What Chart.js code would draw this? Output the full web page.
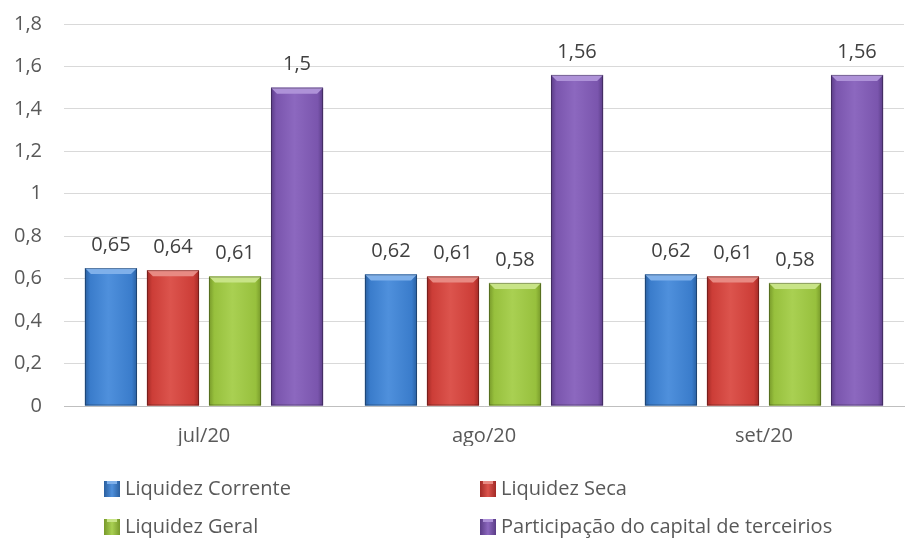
<!DOCTYPE html>
<html>
<head>
<meta charset="utf-8">
<script src="https://cdn.jsdelivr.net/npm/chart.js@4"></script>
<style>
  html, body { margin: 0; padding: 0; background: #fff; }
  #wrap { width: 907px; height: 545px; position: relative; }
</style>
</head>
<body>
<div id="wrap"><canvas id="indChart"></canvas></div>
<script>
// chart data
const months = ['jul/20', 'ago/20', 'set/20'];
const liquidezCorrente = [0.65, 0.62, 0.62];
const liquidezSeca = [0.64, 0.61, 0.61];
const liquidezGeral = [0.61, 0.58, 0.58];
const participacaoTerceiros = [1.5, 1.56, 1.56];
const yTicks = [0, 0.2, 0.4, 0.6, 0.8, 1, 1.2, 1.4, 1.6, 1.8];

const FONT = '"Open Sans", "Noto Sans", sans-serif';
const TXT = '#595959';

// base colours: [dark edge, mid, light centre, top highlight]
const palette = [
  ['#2a5f9f', '#3a7ccb', '#4f90dc', '#7fb0ea'],
  ['#a22a26', '#cc3d37', '#dc544d', '#e88a83'],
  ['#77992a', '#97c03d', '#a9d052', '#c8e487'],
  ['#5a3c86', '#7a55ad', '#8c68bf', '#ae92d8']
];

const fmt = v => String(Math.round(v * 100) / 100).replace('.', ',');

// bevel look painted over each bar, using the bar geometry from the scales
const bevelBars = {
  id: 'bevelBars',
  afterDatasetsDraw(chart) {
    const ctx = chart.ctx;
    ctx.save();
    chart.data.datasets.forEach((ds, di) => {
      const c = palette[di];
      chart.getDatasetMeta(di).data.forEach(bar => {
        const w = bar.width, x0 = bar.x - w / 2, x1 = bar.x + w / 2;
        const top = bar.y, bot = bar.base;
        const g = ctx.createLinearGradient(x0, 0, x1, 0);
        g.addColorStop(0, c[0]);
        g.addColorStop(0.1, c[1]);
        g.addColorStop(0.45, c[2]);
        g.addColorStop(0.9, c[1]);
        g.addColorStop(1, c[0]);
        ctx.fillStyle = g;
        ctx.fillRect(x0, top, w, bot - top);
        // top bevel
        const b = 6;
        ctx.fillStyle = c[3];
        ctx.beginPath();
        ctx.moveTo(x0, top);
        ctx.lineTo(x1, top);
        ctx.lineTo(x1 - b, top + b);
        ctx.lineTo(x0 + b, top + b);
        ctx.closePath();
        ctx.fill();
        ctx.strokeStyle = 'rgba(0,0,0,0.3)';
        ctx.lineWidth = 1;
        ctx.strokeRect(x0 + 0.5, top + 0.5, w - 1, bot - top - 1);
      });
    });
    ctx.restore();
  }
};

// value labels above the bars
const valueLabels = {
  id: 'valueLabels',
  afterDatasetsDraw(chart) {
    const ctx = chart.ctx;
    ctx.save();
    ctx.font = '20px ' + FONT;
    ctx.fillStyle = '#404040';
    ctx.textAlign = 'center';
    ctx.textBaseline = 'middle';
    chart.data.datasets.forEach((ds, di) => {
      chart.getDatasetMeta(di).data.forEach((bar, j) => {
        ctx.fillText(fmt(ds.data[j]), bar.x, bar.y - 23);
      });
    });
    ctx.restore();
  }
};

// two column legend under the axis
const gridLegend = {
  id: 'gridLegend',
  afterDraw(chart) {
    const ctx = chart.ctx;
    const cols = [104, 480];
    const rows = [489, 527];
    ctx.save();
    ctx.font = '20px ' + FONT;
    ctx.textBaseline = 'middle';
    chart.data.datasets.forEach((ds, i) => {
      const x = cols[i % 2];
      const y = rows[Math.floor(i / 2)];
      const g = ctx.createLinearGradient(x, 0, x + 16, 0);
      g.addColorStop(0, palette[i][0]);
      g.addColorStop(0.5, palette[i][2]);
      g.addColorStop(1, palette[i][0]);
      ctx.fillStyle = g;
      ctx.fillRect(x, y - 8, 16, 16);
      ctx.fillStyle = palette[i][3];
      ctx.fillRect(x + 3, y - 8, 10, 3);
      ctx.fillStyle = TXT;
      ctx.textAlign = 'left';
      ctx.fillText(ds.label, x + 21, y);
    });
    ctx.restore();
  }
};

const labels = ['Liquidez Corrente', 'Liquidez Seca', 'Liquidez Geral', 'Participação do capital de terceirios'];
const series = [liquidezCorrente, liquidezSeca, liquidezGeral, participacaoTerceiros];

new Chart(document.getElementById('indChart'), {
  type: 'bar',
  data: {
    labels: months,
    datasets: series.map((d, i) => ({
      label: labels[i],
      data: d,
      backgroundColor: palette[i][1],
      borderWidth: 0,
      categoryPercentage: 0.886,
      barPercentage: 0.84
    }))
  },
  options: {
    responsive: true,
    maintainAspectRatio: false,
    animation: false,
    layout: { padding: { top: 24, right: 3, bottom: 99, left: 0 } },
    plugins: {
      legend: { display: false },
      tooltip: { enabled: false }
    },
    scales: {
      x: {
        afterFit: axis => { axis.height = 40; axis.paddingLeft = 0; axis.paddingRight = 0; },
        grid: { display: false, drawTicks: false },
        border: { color: '#bfbfbf', width: 1 },
        ticks: { color: TXT, font: { family: FONT, size: 20 }, padding: 18 }
      },
      y: {
        min: 0,
        max: 1.8,
        afterBuildTicks: axis => { axis.ticks = yTicks.map(v => ({ value: v })); },
        afterFit: axis => { axis.width = 64; axis.paddingTop = 0; axis.paddingBottom = 0; },
        grid: { color: '#d9d9d9', drawTicks: false, lineWidth: 1 },
        border: { display: false },
        ticks: {
          color: TXT,
          font: { family: FONT, size: 20 },
          padding: 22,
          callback: v => fmt(v)
        }
      }
    }
  },
  plugins: [bevelBars, valueLabels, gridLegend]
});
</script>
</body>
</html>
